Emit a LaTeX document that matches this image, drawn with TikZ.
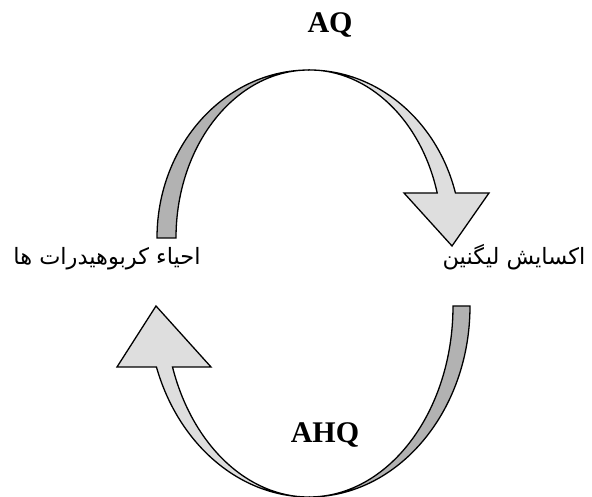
\documentclass[tikz,border=0pt]{standalone}
\usepackage{fontspec}
\newfontfamily\arabicfont[Script=Arabic]{DejaVu Sans}
\newfontfamily\qfont{Liberation Serif}
\TeXXeTstate=1
\definecolor{backgray}{gray}{0.70}
\definecolor{frontgray}{gray}{0.87}
\begin{document}
\begin{tikzpicture}[x=1pt,y=1pt,
    ribbon/.style={draw=black, line width=1.3pt, line join=miter},
    steplabel/.style={font=\arabicfont\fontsize{22.5}{26}\selectfont, inner sep=0pt, anchor=base},
    qlabel/.style={font=\qfont\bfseries\fontsize{30}{34}\selectfont, inner sep=0pt, anchor=base}]
    \useasboundingbox (0,0) rectangle (592,497);

    % upper arrow: back face, then front face with head
    \filldraw[ribbon, fill=backgray] (157,259) arc[start angle=180, end angle=90, x radius=152, y radius=168]
        arc[start angle=90, end angle=180, x radius=133, y radius=168] -- cycle;
    \filldraw[ribbon, fill=frontgray] (309,427) arc[start angle=90, end angle=15.5, x radius=152, y radius=168]
        -- (489,304) -- (452,251) -- (404,304) -- (437.2,304)
        arc[start angle=15.5, end angle=90, x radius=133, y radius=168] -- cycle;

    % lower arrow
    \filldraw[ribbon, fill=backgray] (470,191) arc[start angle=0, end angle=-90, x radius=161, y radius=191]
        arc[start angle=-90, end angle=0, x radius=144, y radius=191] -- cycle;
    \filldraw[ribbon, fill=frontgray] (309,0) arc[start angle=270, end angle=198.6, x radius=161, y radius=191]
        -- (117,130) -- (156,191) -- (211,130) -- (172.5,130)
        arc[start angle=198.6, end angle=270, x radius=144, y radius=191] -- cycle;

    \node[steplabel] (reduction) at (107,232) {\beginR احیاء کربوهیدرات ها\endR};
    \node[steplabel] (oxidation) at (514,232) {\beginR اکسایش لیگنین\endR};
    \node[qlabel] (aq) at (330,464) {AQ};
    \node[qlabel] (ahq) at (325,54) {AHQ};
\end{tikzpicture}
\end{document}
